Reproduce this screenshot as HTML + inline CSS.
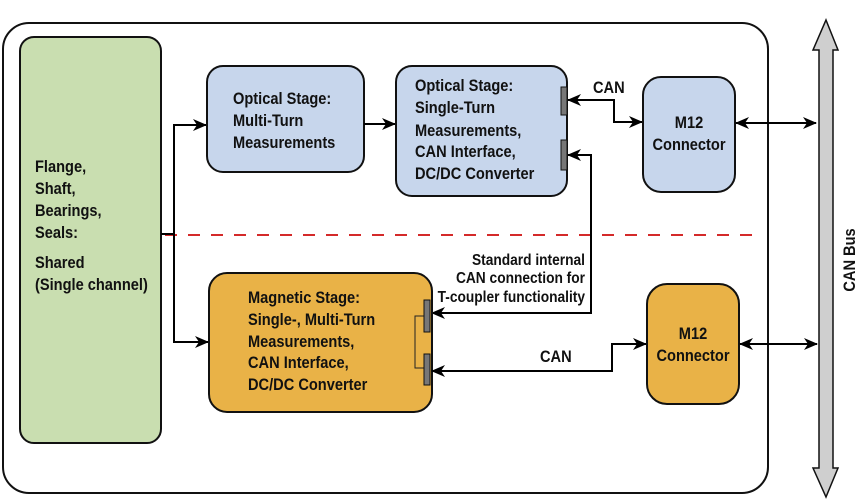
<!DOCTYPE html>
<html><head><meta charset="utf-8"><style>
html,body{margin:0;padding:0;background:#fff;}
svg{display:block;}
text{font-family:"Liberation Sans",Arial,sans-serif;font-weight:bold;font-size:17px;fill:#111;}
</style></head><body>
<svg width="865" height="501" viewBox="0 0 865 501" xmlns="http://www.w3.org/2000/svg">
<defs>
<marker id="ah" markerWidth="14" markerHeight="14" refX="13" refY="7" orient="auto" markerUnits="userSpaceOnUse">
<path d="M0,1 L14,7 L0,13 L4,7 Z" fill="#000"/>
</marker>
<marker id="as" markerWidth="14" markerHeight="14" refX="1" refY="7" orient="auto" markerUnits="userSpaceOnUse">
<path d="M14,1 L0,7 L14,13 L10,7 Z" fill="#000"/>
</marker>
</defs>
<rect x="3" y="23" width="765" height="470" rx="26" fill="#fff" stroke="#111" stroke-width="2"/>
<rect x="20" y="37" width="141" height="406" rx="14" fill="#c9deb0" stroke="#111" stroke-width="2"/>
<text transform="translate(35,172) scale(0.86,1)">Flange,</text>
<text transform="translate(35,194) scale(0.86,1)">Shaft,</text>
<text transform="translate(35,216) scale(0.86,1)">Bearings,</text>
<text transform="translate(35,238) scale(0.86,1)">Seals:</text>
<text transform="translate(35,268) scale(0.86,1)">Shared</text>
<text transform="translate(35,290) scale(0.86,1)">(Single channel)</text>
<line x1="165" y1="235" x2="755" y2="235" stroke="#d42a2a" stroke-width="2" stroke-dasharray="12,11"/>
<line x1="161" y1="234" x2="174" y2="234" stroke="#000" stroke-width="2"/>
<polyline points="174,342 174,125 206,125" fill="none" stroke="#000" stroke-width="2" marker-end="url(#ah)"/>
<line x1="173" y1="342" x2="208" y2="342" stroke="#000" stroke-width="2" marker-end="url(#ah)"/>
<rect x="207" y="66" width="157" height="106" rx="16" fill="#c7d6ec" stroke="#111" stroke-width="2"/>
<text transform="translate(233,104) scale(0.86,1)">Optical Stage:</text>
<text transform="translate(233,126) scale(0.86,1)">Multi-Turn</text>
<text transform="translate(233,148) scale(0.86,1)">Measurements</text>
<line x1="364" y1="124" x2="395" y2="124" stroke="#000" stroke-width="2" marker-end="url(#ah)"/>
<rect x="396" y="66" width="171" height="130" rx="16" fill="#c7d6ec" stroke="#111" stroke-width="2"/>
<text transform="translate(415,91) scale(0.86,1)">Optical Stage:</text>
<text transform="translate(415,113) scale(0.86,1)">Single-Turn</text>
<text transform="translate(415,136) scale(0.86,1)">Measurements,</text>
<text transform="translate(415,157) scale(0.86,1)">CAN Interface,</text>
<text transform="translate(415,179) scale(0.86,1)">DC/DC Converter</text>
<rect x="561" y="87" width="6" height="28" fill="#777" stroke="#111" stroke-width="1"/>
<rect x="561" y="140" width="6" height="30" fill="#777" stroke="#111" stroke-width="1"/>
<text transform="translate(593,93) scale(0.86,1)">CAN</text>
<polyline points="568,100 614,100 614,122 642,122" fill="none" stroke="#000" stroke-width="2" marker-start="url(#as)" marker-end="url(#ah)"/>
<rect x="643" y="77" width="92" height="115" rx="18" fill="#c7d6ec" stroke="#111" stroke-width="2"/>
<text transform="translate(689,128) scale(0.86,1)" text-anchor="middle">M12</text>
<text transform="translate(689,150) scale(0.86,1)" text-anchor="middle">Connector</text>
<line x1="736" y1="123" x2="816" y2="123" stroke="#000" stroke-width="2" marker-start="url(#as)" marker-end="url(#ah)"/>
<polyline points="568,155 591,155 591,313 432,313" fill="none" stroke="#000" stroke-width="2" marker-start="url(#as)" marker-end="url(#ah)"/>
<text transform="translate(585,265) scale(0.86,1)" text-anchor="end" style="font-size:16px">Standard internal</text>
<text transform="translate(585,283) scale(0.86,1)" text-anchor="end" style="font-size:16px">CAN connection for</text>
<text transform="translate(585,302) scale(0.86,1)" text-anchor="end" style="font-size:16px">T-coupler functionality</text>
<rect x="209" y="273" width="223" height="139" rx="18" fill="#e9b247" stroke="#111" stroke-width="2"/>
<text transform="translate(248,303) scale(0.86,1)">Magnetic Stage:</text>
<text transform="translate(248,325) scale(0.86,1)">Single-, Multi-Turn</text>
<text transform="translate(248,347) scale(0.86,1)">Measurements,</text>
<text transform="translate(248,368) scale(0.86,1)">CAN Interface,</text>
<text transform="translate(248,390) scale(0.86,1)">DC/DC Converter</text>
<polyline points="424,316 415,316 415,368 424,368" fill="none" stroke="#222" stroke-width="1"/>
<rect x="424" y="300" width="6" height="32" fill="#777" stroke="#111" stroke-width="1"/>
<rect x="424" y="354" width="6" height="31" fill="#777" stroke="#111" stroke-width="1"/>
<text transform="translate(540,362) scale(0.86,1)">CAN</text>
<polyline points="432,371 612,371 612,344 646,344" fill="none" stroke="#000" stroke-width="2" marker-start="url(#as)" marker-end="url(#ah)"/>
<rect x="647" y="284" width="92" height="120" rx="20" fill="#e9b247" stroke="#111" stroke-width="2"/>
<text transform="translate(693,339) scale(0.86,1)" text-anchor="middle">M12</text>
<text transform="translate(693,361) scale(0.86,1)" text-anchor="middle">Connector</text>
<line x1="740" y1="344" x2="817" y2="344" stroke="#000" stroke-width="2" marker-start="url(#as)" marker-end="url(#ah)"/>
<path d="M826,20 L838,50 L833,50 L833,468 L838,468 L826,497 L813,468 L819,468 L819,50 L813,50 Z" fill="#cfcfcf" stroke="#111" stroke-width="1.5"/>
<text transform="translate(855,260) rotate(-90) scale(0.86,1)" text-anchor="middle">CAN Bus</text>
</svg>
</body></html>
